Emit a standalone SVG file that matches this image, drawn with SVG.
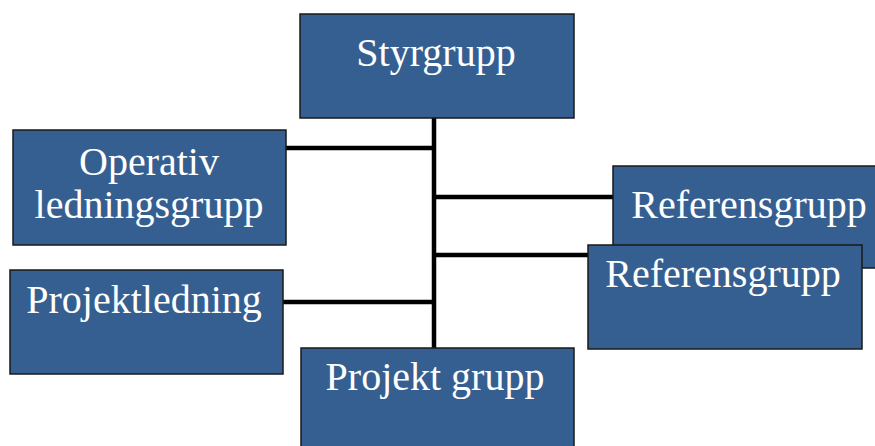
<svg xmlns="http://www.w3.org/2000/svg" width="875" height="446" viewBox="0 0 875 446">
<style>
.box{fill:#365F91;stroke:#1a1a1a;stroke-width:1.5}
.t{font-family:"Liberation Serif","Times New Roman",serif;font-size:40px;fill:#ffffff;text-anchor:middle}
.c{stroke:#000;stroke-width:4.5;fill:none}
</style>
<rect width="875" height="446" fill="#ffffff"/>
<g id="connectors">
<line class="c" x1="434" y1="118" x2="434" y2="349"/>
<line class="c" x1="286" y1="148" x2="434" y2="148"/>
<line class="c" x1="434" y1="197" x2="613" y2="197"/>
<line class="c" x1="434" y1="255" x2="588" y2="255"/>
<line class="c" x1="283" y1="302" x2="434" y2="302"/>
</g>
<g id="styrgrupp">
<rect class="box" x="300" y="14" width="274" height="104"/>
<text class="t" x="436" y="66">Styrgrupp</text>
</g>
<g id="operativ">
<rect class="box" x="13" y="130" width="273" height="115"/>
<text class="t" x="149" y="175">Operativ</text>
<text class="t" x="149" y="218">ledningsgrupp</text>
</g>
<g id="projektledning">
<rect class="box" x="10" y="270" width="273" height="104"/>
<text class="t" x="144" y="313">Projektledning</text>
</g>
<g id="referensgrupp1">
<rect class="box" x="613" y="166" width="272" height="102"/>
<text class="t" x="749" y="218">Referensgrupp</text>
</g>
<g id="referensgrupp2">
<rect class="box" x="588" y="245" width="274" height="104"/>
<text class="t" x="723" y="287">Referensgrupp</text>
</g>
<g id="projektgrupp">
<rect class="box" x="301" y="348" width="273" height="110"/>
<text class="t" x="435" y="390">Projekt grupp</text>
</g>
</svg>
